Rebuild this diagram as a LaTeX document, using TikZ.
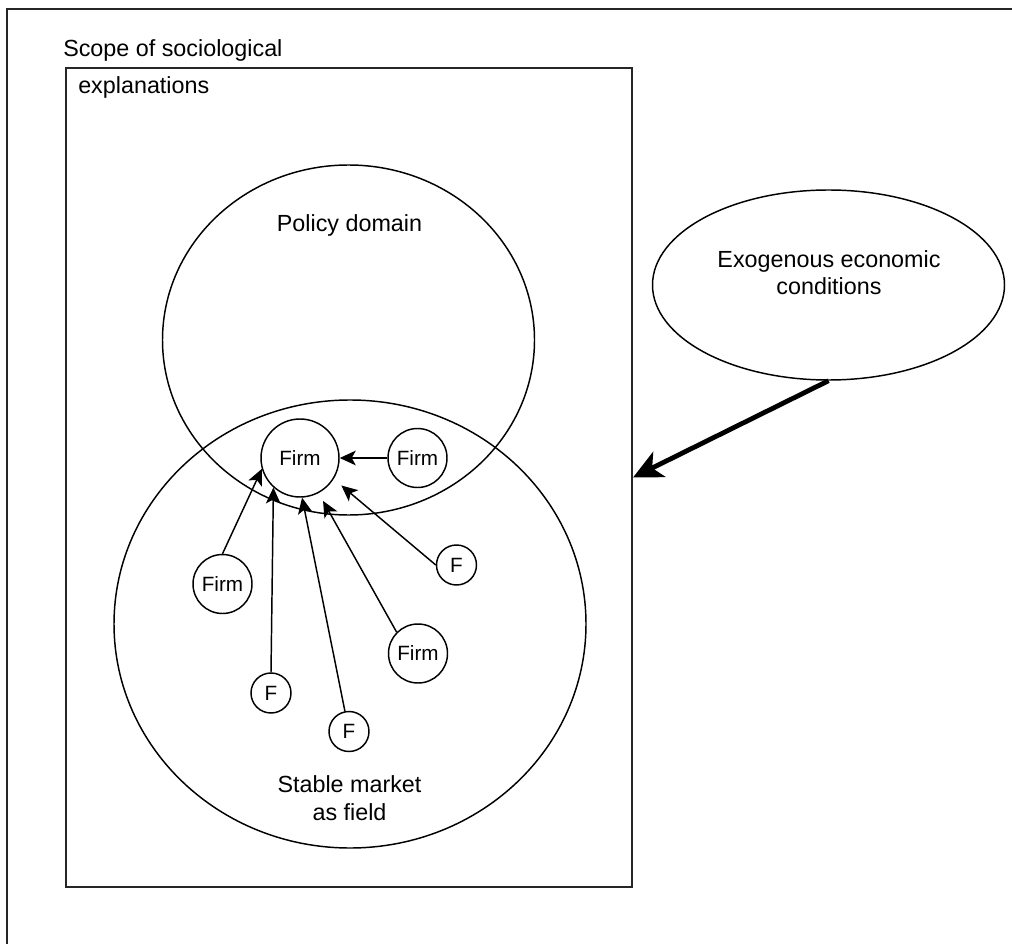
\documentclass[tikz,border=0pt]{standalone}
\usepackage{fontspec}
\setmainfont{Liberation Sans}
\usetikzlibrary{arrows.meta,shapes.geometric}
\begin{document}
\begin{tikzpicture}[x=0.75pt,y=-0.75pt,
  lbl/.style={font=\fontsize{17.5}{21}\selectfont, inner sep=0pt},
  small/.style={font=\fontsize{15.5}{18}\selectfont},
  bigell/.style={ellipse, draw, line width=1.1pt, inner sep=0pt},
  firmbig/.style={circle,draw,line width=1.1pt,minimum size=58.5pt,inner sep=0pt,small},
  firm/.style={circle,draw,line width=1.1pt,minimum size=44.25pt,inner sep=0pt,small},
  fsm/.style={circle,draw,line width=1.1pt,minimum size=30pt,inner sep=0pt,small},
  arr/.style={line width=1.1pt,-{Stealth[length=12pt,width=11pt,inset=3pt]}},
  bigarr/.style={line width=3.6pt,-{Stealth[length=22pt,width=21pt,inset=6pt]}},
  ]
\useasboundingbox (0,0) rectangle (1012,944);
% outer frame (only top and left edges are visible)
\draw[line width=1.6pt, black!85] (7,944) -- (7,9) -- (1012,9);
% scope rectangle
\node[draw, line width=1.5pt, black!85, minimum width=424.5pt, minimum height=614.25pt, inner sep=0pt] (scope) at (349,477.5) {};
\node[lbl, anchor=base west] (t1) at (63,57) {Scope of sociological};
\node[lbl, anchor=base west] (t2) at (78,94) {explanations};
% big ellipses
\node[bigell, minimum width=279pt, minimum height=262.5pt] (pd) at (348.5,340) {};
\node[bigell, minimum width=354pt, minimum height=336pt] (sm) at (350,624) {};
\node[bigell, minimum width=264pt, minimum height=142.5pt] (exo) at (828.5,285) {};
\node[lbl, anchor=base] (pdt) at (349.5,232) {Policy domain};
\node[lbl, anchor=base] (smt1) at (349.5,792) {Stable market};
\node[lbl, anchor=base] (smt2) at (349.5,820) {as field};
\node[lbl, anchor=base] (ext1) at (829,268) {Exogenous economic};
\node[lbl, anchor=base] (ext2) at (829,295) {conditions};
% firms
\node[firmbig] (c) at (300,458) {Firm};
\node[firm] (fr) at (417.5,458) {Firm};
\node[firm] (fl) at (222.5,584) {Firm};
\node[firm] (fm) at (418,653.5) {Firm};
\node[fsm] (ft) at (456.5,565) {F};
\node[fsm] (f1) at (271,693) {F};
\node[fsm] (f2) at (349,731.5) {F};
% arrows
\draw[arr] (fr) -- (c);
\draw[arr] (fl.north) -- (c.196);
\draw[arr] (f1.north) -- (c.228);
\draw[arr] (f2) -- (c.273);
\draw[arr, shorten >=6.75pt] (fm.135) -- (c.298);
\draw[arr, shorten >=7.5pt] (ft.west) -- (c.328);
\draw[bigarr] (exo.south) -- (scope.east);
\end{tikzpicture}
\end{document}
